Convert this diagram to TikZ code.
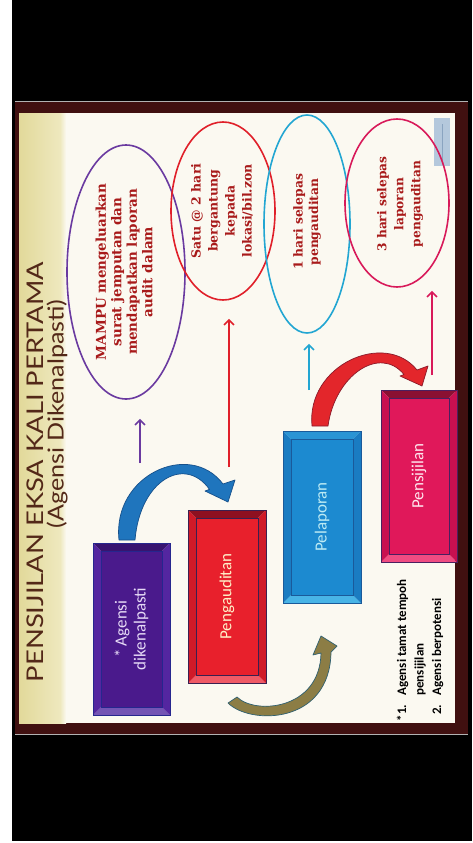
\documentclass[tikz,border=0pt]{standalone}
\usepackage{fontspec}
\setmainfont{Liberation Serif}
\newfontfamily\headfont{Lato}
\newfontfamily\ovalfont{DejaVu Serif}
\newfontfamily\boxfont{Carlito}
\usetikzlibrary{shapes.geometric,arrows.meta}

% frame and slide
\definecolor{slideframe}{HTML}{401010}
\definecolor{slidepaper}{HTML}{FBF9F1}
\definecolor{bandleft}{HTML}{E2D99A}
\definecolor{bandright}{HTML}{EEE8BE}
\definecolor{headcol}{HTML}{532818}
\definecolor{iconcol}{HTML}{B4C8DC}
\definecolor{iconline}{HTML}{8AA4C0}
% ovals
\definecolor{ovpurple}{HTML}{6A3AA0}
\definecolor{ovred}{HTML}{E0202A}
\definecolor{ovcyan}{HTML}{22A6D2}
\definecolor{ovmagenta}{HTML}{D81A5A}
\definecolor{ovaltext}{HTML}{A81A1A}
% bevelled boxes
\definecolor{agbase}{HTML}{4A1A8C}\definecolor{agtop}{HTML}{381470}
\definecolor{agbot}{HTML}{7454B4}\definecolor{agside}{HTML}{5426A0}
\definecolor{agline}{HTML}{26268E}
\definecolor{pgbase}{HTML}{E8202C}\definecolor{pgtop}{HTML}{8E1020}
\definecolor{pgbot}{HTML}{F05A66}\definecolor{pgside}{HTML}{D01A28}
\definecolor{pgline}{HTML}{3A2050}
\definecolor{plbase}{HTML}{1C8AD0}\definecolor{pltop}{HTML}{2A94D4}
\definecolor{plbot}{HTML}{48B4E6}\definecolor{plside}{HTML}{1A7CC2}
\definecolor{plline}{HTML}{1A5A9A}
\definecolor{psbase}{HTML}{E0185A}\definecolor{pstop}{HTML}{8A1032}
\definecolor{psbot}{HTML}{F04C82}\definecolor{psside}{HTML}{C81050}
\definecolor{psline}{HTML}{4A2060}
% box captions
\definecolor{agtext}{HTML}{E6DAF6}
\definecolor{pgtext}{HTML}{FFF0C8}
\definecolor{pltext}{HTML}{BDEBF4}
\definecolor{pstext}{HTML}{FFE6EE}
% curved arrows
\definecolor{arrblue}{HTML}{1F75BD}\definecolor{arrblueline}{HTML}{16508A}
\definecolor{arrred}{HTML}{E3262B}\definecolor{arrredline}{HTML}{8A1A2A}
\definecolor{arrolive}{HTML}{8C7D45}\definecolor{arroliveline}{HTML}{2F6070}

% bevelled box: name, x1, y1, x2, y2, colour prefix
\newcommand\bevelbox[6]{%
  \fill[#6top] (#2,#3) -- (#4,#3) -- ({#4-8},{#3+8}) -- ({#2+8},{#3+8}) -- cycle;
  \fill[#6bot] (#2,#5) -- (#4,#5) -- ({#4-8},{#5-8}) -- ({#2+8},{#5-8}) -- cycle;
  \fill[#6side] (#2,#3) -- ({#2+8},{#3+8}) -- ({#2+8},{#5-8}) -- (#2,#5) -- cycle;
  \fill[#6side] (#4,#3) -- ({#4-8},{#3+8}) -- ({#4-8},{#5-8}) -- (#4,#5) -- cycle;
  \fill[#6base] ({#2+8},{#3+8}) rectangle ({#4-8},{#5-8});
  \draw[#6line, line width=0.5pt] ({#2+8},{#3+8}) rectangle ({#4-8},{#5-8});
  \draw[#6line, line width=1pt] (#2,#3) rectangle (#4,#5);
  \node[inner sep=0pt, minimum width={#4-#2}, minimum height={#5-#3}] (#1)
    at ({(#2+#4)/2},{(#3+#5)/2}) {};
}

\begin{document}
\begin{tikzpicture}[x=1pt, y=-1pt,
  oval/.style={ellipse, draw, line width=1.6pt, inner sep=0pt},
  ovallabel/.style={rotate=90, align=center, text=ovaltext,
    font=\ovalfont\bfseries\fontsize{13.5}{15.5}\selectfont},
  boxlabel/.style={rotate=90, align=center,
    font=\boxfont\fontsize{17}{19}\selectfont},
  headline/.style={rotate=90, text=headcol, inner sep=0pt},
  uparrow/.style={line width=1.6pt, -{Straight Barb[length=5pt,width=10pt]}},
  blockarrow/.style={line width=0.7pt, line join=round}]

\useasboundingbox (0,0) rectangle (472,843);
\fill[white] (0,0) rectangle (472,843);
\fill[black] (12,0) rectangle (472,841);

% slide
\fill[slideframe] (15,101) rectangle (468,734);
\draw[gray!60, line width=0.8pt] (15,101) -- (468,101);
\draw[gray!60, line width=0.8pt] (15,734) -- (468,734);
\fill[slidepaper] (19,113) rectangle (455,723);
\shade[left color=bandleft, right color=bandright] (19,113) rectangle (60,723);
\shade[left color=bandright, right color=slidepaper] (60,113) rectangle (66,723);

% small slide icon
\fill[iconcol] (434,118) rectangle (450,166);
\draw[iconline, line width=1pt] (442,124) -- (442,160);

% title
\node[headline, font=\headfont\fontsize{23}{27}\selectfont] (title)
  at (35,472) {\scalebox{1.19}[1]{PENSIJILAN EKSA KALI PERTAMA}};
\node[headline, font=\headfont\fontsize{22}{26}\selectfont] (subtitle)
  at (57,414) {\scalebox{1.14}[1]{(Agensi Dikenalpasti)}};

% ovals
\node[oval, draw=ovpurple, minimum width=118pt, minimum height=254pt] (e1) at (126,272) {};
\node[oval, draw=ovred, minimum width=104pt, minimum height=178pt] (e2) at (223,211) {};
\node[oval, draw=ovcyan, minimum width=86pt, minimum height=218pt] (e3) at (307,224) {};
\node[oval, draw=ovmagenta, minimum width=104pt, minimum height=168pt] (e4) at (397,203) {};

\node[ovallabel] (t1) at (124,272)
  {MAMPU mengeluarkan\\surat jemputan dan\\mendapatkan laporan\\audit dalam};
\node[ovallabel, font=\ovalfont\bfseries\fontsize{12.5}{17}\selectfont] (t2) at (222,211)
  {Satu @ 2 hari\\bergantung\\kepada\\lokasi/bil.zon};
\node[ovallabel, font=\ovalfont\bfseries\fontsize{12.3}{15.5}\selectfont] (t3) at (307,222)
  {1 hari selepas\\pengauditan};
\node[ovallabel, font=\ovalfont\bfseries\fontsize{12.2}{17}\selectfont] (t4) at (400,204)
  {3 hari selepas\\laporan\\pengauditan};

% steps
\bevelbox{b1}{93}{543}{170}{715}{ag}
\bevelbox{b2}{188}{510}{266}{683}{pg}
\bevelbox{b3}{283}{431}{361}{603}{pl}
\bevelbox{b4}{381}{390}{457}{562}{ps}

\node[boxlabel, text=agtext] at (b1.center) {*\,Agensi\\dikenalpasti};
\node[boxlabel, text=pgtext] at (b2.center) {Pengauditan};
\node[boxlabel, text=pltext] at (b3.center) {Pelaporan};
\node[boxlabel, text=pstext] at (b4.center) {Pensijilan};

% arrows up to the ovals
\coordinate (pa) at (140,463);
\coordinate (ra) at (229,467);
\coordinate (ca) at (309,390);
\coordinate (ma) at (432,375);
\draw[uparrow, ovpurple, shorten >=19pt] (pa) -- (pa |- e1.south);
\draw[uparrow, ovred, shorten >=18pt] (ra) -- (ra |- e2.south);
\draw[uparrow, ovcyan, shorten >=10pt] (ca) -- (ca |- e3.south);
\draw[uparrow, ovmagenta, shorten >=3pt] (ma) -- (ma |- e4.south);

% curved block arrows between the steps
\filldraw[blockarrow, fill=arrblue, draw=arrblueline]
  (119,540) .. controls (112,475) and (190,440) .. (223,484)
  -- (235,480) -- (228,502) -- (205,491) -- (209.5,489.4)
  .. controls (185,455) and (140,480) .. (135,540) -- cycle;
\filldraw[blockarrow, fill=arrred, draw=arrredline]
  (312,426) .. controls (306,365) and (385,330) .. (417,370)
  -- (428,366) -- (422,386) -- (400,376) -- (404,374.5)
  .. controls (380,345) and (335,375) .. (328,426) -- cycle;
\filldraw[blockarrow, fill=arrolive, draw=arroliveline]
  (228,703) .. controls (250,725) and (330,725) .. (331,652)
  -- (337,646) -- (321,636) -- (313,655) -- (321,653)
  .. controls (320,710) and (255,715) .. (237,697) -- cycle;

% footnote
\node[rotate=90, align=left, font=\boxfont\bfseries\fontsize{13}{17.5}\selectfont] (note)
  at (420,647)
  {\llap{*}1.\hspace{0.7em}Agensi tamat tempoh\\
   \hphantom{1.\hspace{0.7em}}pensijilan\\
   2.\hspace{0.7em}Agensi berpotensi};
\end{tikzpicture}
\end{document}
